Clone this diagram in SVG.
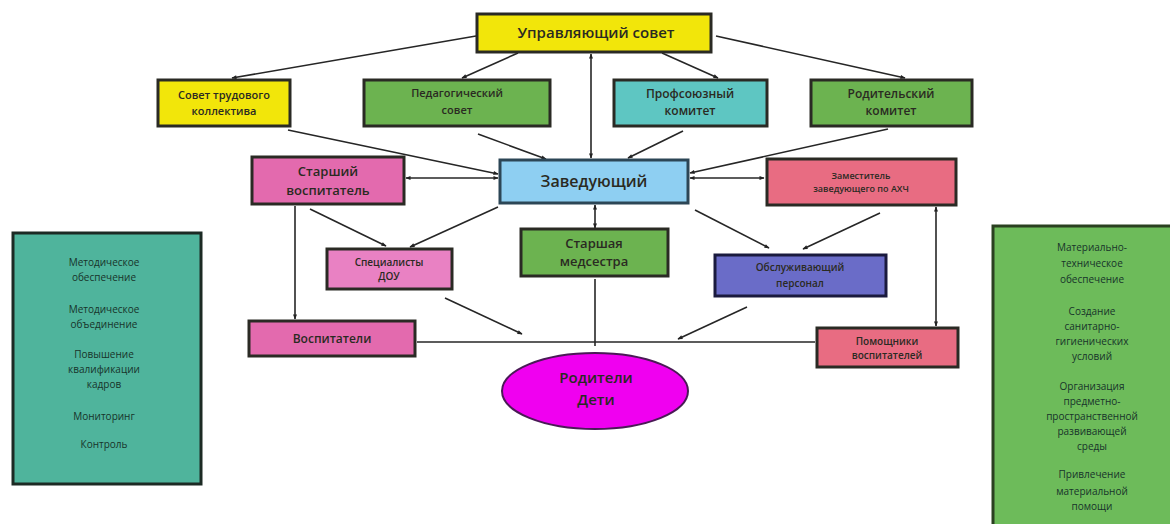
<svg xmlns="http://www.w3.org/2000/svg" width="1170" height="524" viewBox="0 0 1170 524">
<defs>
<marker id="ah" viewBox="0 0 10 10" refX="9" refY="5" markerWidth="7" markerHeight="5" orient="auto-start-reverse" markerUnits="userSpaceOnUse">
<path d="M0,1 L10,5 L0,9 Z" fill="#222"/>
</marker>
<style>
text{font-family:"Open Sans","Liberation Sans",sans-serif;text-anchor:middle;fill:#2a2a22;font-weight:600}
.box{stroke:#2a2a24;stroke-width:3}
.yel{fill:#f2e60a}
.grn{fill:#6cb350}
.teal{fill:#5ec6c2}
.pink{fill:#e36aae}
.pink2{fill:#e981c3}
.blue{fill:#8ecff2;stroke:#2c4656}
.red{fill:#e86c82}
.purp{fill:#6a6cc8;stroke:#1a1a3e}
.conn line{stroke:#262626;stroke-width:1.6;fill:none}
.panel text{font-size:10px;font-weight:400;fill:#17332a}
</style>
</defs>
<rect width="1170" height="524" fill="#fff"/>

<g id="connectors" class="conn">
<line x1="476" y1="36" x2="232" y2="78" marker-end="url(#ah)"/>
<line x1="518" y1="53" x2="462" y2="78" marker-end="url(#ah)"/>
<line x1="662" y1="53" x2="718" y2="78" marker-end="url(#ah)"/>
<line x1="716" y1="36" x2="905" y2="78" marker-end="url(#ah)"/>
<line x1="591" y1="158" x2="591" y2="54" marker-start="url(#ah)" marker-end="url(#ah)"/>
<line x1="288" y1="130" x2="498" y2="174" marker-end="url(#ah)"/>
<line x1="478" y1="134" x2="546" y2="159" marker-end="url(#ah)"/>
<line x1="683" y1="131" x2="628" y2="158" marker-end="url(#ah)"/>
<line x1="888" y1="129" x2="690" y2="173" marker-end="url(#ah)"/>
<line x1="406" y1="178" x2="498" y2="178" marker-start="url(#ah)" marker-end="url(#ah)"/>
<line x1="690" y1="178" x2="764" y2="178" marker-start="url(#ah)" marker-end="url(#ah)"/>
<line x1="498" y1="207" x2="410" y2="247" marker-end="url(#ah)"/>
<line x1="310" y1="209" x2="386" y2="246" marker-end="url(#ah)"/>
<line x1="295" y1="206" x2="295" y2="319" marker-end="url(#ah)"/>
<line x1="595" y1="205" x2="595" y2="228" marker-start="url(#ah)" marker-end="url(#ah)"/>
<line x1="695" y1="210" x2="769" y2="248" marker-end="url(#ah)"/>
<line x1="880" y1="213" x2="803" y2="249" marker-end="url(#ah)"/>
<line x1="936" y1="207" x2="936" y2="326" marker-start="url(#ah)" marker-end="url(#ah)"/>
<line x1="445" y1="298" x2="522" y2="334" marker-end="url(#ah)"/>
<line x1="595" y1="279" x2="595" y2="346"/>
<line x1="747" y1="307" x2="678" y2="339" marker-end="url(#ah)"/>
<line x1="417" y1="342" x2="815" y2="342"/>
</g>

<g id="upr-sovet"><rect class="box yel" x="477" y="14" width="234" height="38"/><text x="596" y="38" font-size="15">Управляющий совет</text></g>
<g id="sovet-trud"><rect class="box yel" x="158" y="80" width="132" height="46"/><text x="224" y="99" font-size="11">Совет трудового</text><text x="224" y="115" font-size="11">коллектива</text></g>
<g id="ped-sovet"><rect class="box grn" x="364" y="80" width="186" height="46"/><text x="457" y="97" font-size="11">Педагогический</text><text x="457" y="114" font-size="11">совет</text></g>
<g id="profkom"><rect class="box teal" x="614" y="80" width="153" height="46"/><text x="690" y="98" font-size="12">Профсоюзный</text><text x="690" y="115" font-size="12">комитет</text></g>
<g id="rodkom"><rect class="box grn" x="811" y="80" width="161" height="46"/><text x="891" y="98" font-size="12">Родительский</text><text x="891" y="115" font-size="12">комитет</text></g>
<g id="st-vosp"><rect class="box pink" x="252" y="157" width="152" height="47"/><text x="328" y="176" font-size="13">Старший</text><text x="328" y="195" font-size="13">воспитатель</text></g>
<g id="zaved"><rect class="box blue" x="500" y="160" width="188" height="43"/><text x="594" y="187" font-size="16" fill="#1f3a4c">Заведующий</text></g>
<g id="zam-ahch"><rect class="box red" x="767" y="159" width="189" height="46"/><text x="861" y="179" font-size="9">Заместитель</text><text x="861" y="192" font-size="9">заведующего по АХЧ</text></g>
<g id="spec-dou"><rect class="box pink2" x="327" y="249" width="125" height="40"/><text x="389" y="266" font-size="10">Специалисты</text><text x="389" y="280" font-size="10">ДОУ</text></g>
<g id="medsestra"><rect class="box grn" x="521" y="229" width="147" height="47"/><text x="594" y="248" font-size="13">Старшая</text><text x="594" y="266" font-size="13">медсестра</text></g>
<g id="obsl"><rect class="box purp" x="715" y="255" width="171" height="41"/><text x="800" y="271" font-size="10" fill="#1c1c40">Обслуживающий</text><text x="800" y="287" font-size="10" fill="#1c1c40">персонал</text></g>
<g id="vosp"><rect class="box pink" x="249" y="321" width="166" height="35"/><text x="332" y="343" font-size="12">Воспитатели</text></g>
<g id="pomosh"><rect class="box red" x="817" y="328" width="141" height="39"/><text x="887" y="345" font-size="10">Помощники</text><text x="887" y="359" font-size="10">воспитателей</text></g>
<g id="roditeli"><ellipse cx="595" cy="391" rx="93" ry="38" fill="#f000f0" stroke="#4a1a56" stroke-width="2"/><text x="596" y="383" font-size="15" fill="#5a1e6e">Родители</text><text x="596" y="405" font-size="15" fill="#5a1e6e">Дети</text></g>

<g id="panel-left" class="panel"><rect x="13" y="233" width="188" height="251" fill="#4fb49c" stroke="#1c2a24" stroke-width="3"/>
<text x="104" y="266">Методическое</text><text x="104" y="281">обеспечение</text>
<text x="104" y="313">Методическое</text><text x="104" y="328">объединение</text>
<text x="104" y="358">Повышение</text><text x="104" y="373">квалификации</text><text x="104" y="388">кадров</text>
<text x="104" y="420">Мониторинг</text>
<text x="104" y="448">Контроль</text></g>

<g id="panel-right" class="panel"><rect x="993" y="226" width="180" height="300" fill="#6dbb5a" stroke="#2a4020" stroke-width="3"/>
<text x="1092" y="251">Материально-</text><text x="1092" y="267">техническое</text><text x="1092" y="283">обеспечение</text>
<text x="1092" y="315">Создание</text><text x="1092" y="330">санитарно-</text><text x="1092" y="345">гигиенических</text><text x="1092" y="360">условий</text>
<text x="1092" y="390">Организация</text><text x="1092" y="405">предметно-</text><text x="1092" y="420">пространственной</text><text x="1092" y="435">развивающей</text><text x="1092" y="450">среды</text>
<text x="1092" y="478">Привлечение</text><text x="1092" y="495">материальной</text><text x="1092" y="510">помощи</text></g>
</svg>
